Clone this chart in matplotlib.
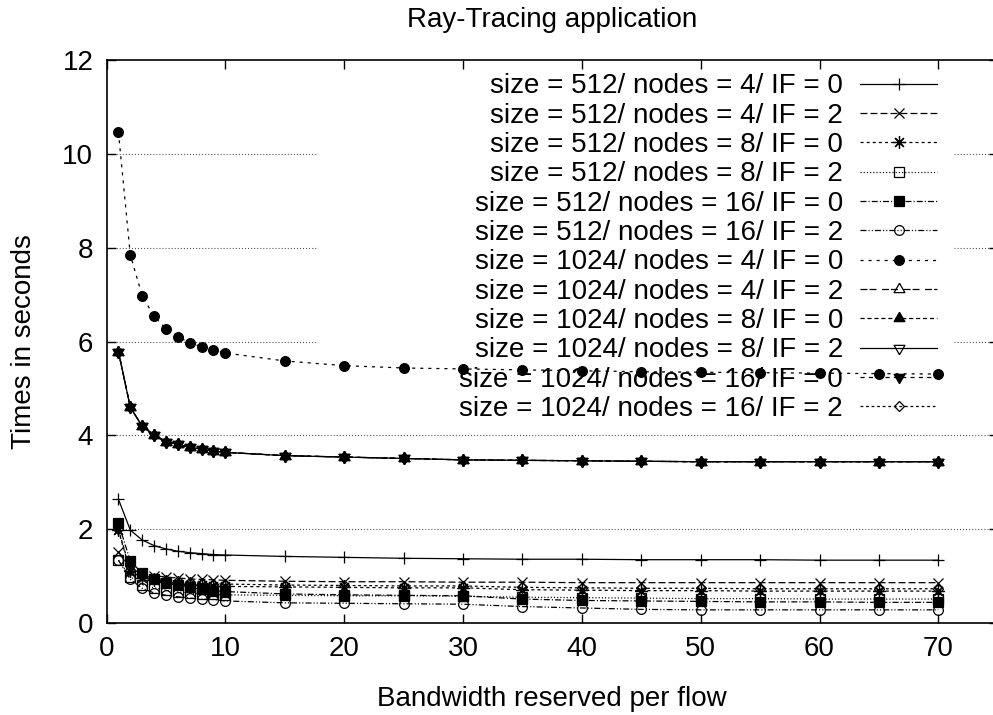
import matplotlib
matplotlib.use("Agg")
import matplotlib.pyplot as plt

plt.rcParams['font.family'] = ['Liberation Sans', 'DejaVu Sans']
plt.rcParams['lines.scale_dashes'] = False

# bandwidth values on the x axis
bandwidth = [1, 2, 3, 4, 5, 6, 7, 8, 9, 10, 15, 20, 25, 30, 35, 40, 45, 50, 55, 60, 65, 70]

# times in seconds
t512_n4_if0 = [2.64, 1.98, 1.77, 1.65, 1.58, 1.53, 1.50, 1.48, 1.46, 1.45, 1.42, 1.40, 1.38, 1.37, 1.36, 1.36, 1.35, 1.35, 1.35, 1.34, 1.34, 1.34]
t512_n4_if2 = [1.52, 1.17, 1.06, 1.01, 0.98, 0.96, 0.94, 0.93, 0.92, 0.91, 0.89, 0.88, 0.88, 0.87, 0.87, 0.86, 0.86, 0.86, 0.86, 0.86, 0.86, 0.86]
t512_n8_if0 = [1.98, 1.10, 0.97, 0.91, 0.87, 0.84, 0.82, 0.80, 0.79, 0.78, 0.77, 0.76, 0.75, 0.75, 0.71, 0.70, 0.69, 0.69, 0.68, 0.68, 0.68, 0.68]
t512_n8_if2 = [1.34, 0.99, 0.82, 0.75, 0.70, 0.66, 0.64, 0.62, 0.61, 0.60, 0.59, 0.58, 0.58, 0.57, 0.55, 0.54, 0.53, 0.52, 0.52, 0.51, 0.51, 0.51]
t512_n16_if0 = [2.13, 1.32, 1.06, 0.93, 0.85, 0.80, 0.76, 0.72, 0.69, 0.67, 0.62, 0.60, 0.59, 0.58, 0.51, 0.48, 0.47, 0.46, 0.45, 0.45, 0.44, 0.44]
t512_n16_if2 = [1.34, 0.93, 0.74, 0.64, 0.59, 0.56, 0.53, 0.51, 0.50, 0.47, 0.43, 0.42, 0.41, 0.40, 0.35, 0.32, 0.29, 0.28, 0.28, 0.28, 0.28, 0.28]
t1024_n4_if0 = [10.47, 7.85, 6.98, 6.54, 6.28, 6.10, 5.98, 5.89, 5.82, 5.76, 5.59, 5.49, 5.44, 5.42, 5.40, 5.38, 5.36, 5.35, 5.34, 5.33, 5.32, 5.31]
# the four curves below lie on top of each other in the picture
t1024_n4_if2 = [5.79, 4.60, 4.20, 4.01, 3.87, 3.81, 3.75, 3.71, 3.67, 3.64, 3.57, 3.54, 3.51, 3.48, 3.47, 3.46, 3.45, 3.44, 3.44, 3.44, 3.44, 3.44]
t1024_n8_if0 = [5.79, 4.60, 4.20, 4.01, 3.87, 3.81, 3.75, 3.71, 3.67, 3.64, 3.57, 3.54, 3.51, 3.48, 3.47, 3.46, 3.45, 3.44, 3.44, 3.44, 3.44, 3.44]
t1024_n8_if2 = [5.79, 4.60, 4.20, 4.01, 3.87, 3.81, 3.75, 3.71, 3.67, 3.64, 3.57, 3.54, 3.51, 3.48, 3.47, 3.46, 3.45, 3.44, 3.44, 3.44, 3.44, 3.44]
t1024_n16_if0 = [5.79, 4.60, 4.20, 4.01, 3.87, 3.81, 3.75, 3.71, 3.67, 3.64, 3.57, 3.54, 3.51, 3.48, 3.47, 3.46, 3.45, 3.44, 3.44, 3.44, 3.44, 3.44]
t1024_n16_if2 = [2.00, 1.13, 1.01, 0.96, 0.92, 0.89, 0.87, 0.85, 0.84, 0.83, 0.81, 0.80, 0.79, 0.79, 0.76, 0.75, 0.74, 0.74, 0.73, 0.73, 0.73, 0.73]

labels = [
    "size = 512/ nodes = 4/ IF = 0",
    "size = 512/ nodes = 4/ IF = 2",
    "size = 512/ nodes = 8/ IF = 0",
    "size = 512/ nodes = 8/ IF = 2",
    "size = 512/ nodes = 16/ IF = 0",
    "size = 512/ nodes = 16/ IF = 2",
    "size = 1024/ nodes = 4/ IF = 0",
    "size = 1024/ nodes = 4/ IF = 2",
    "size = 1024/ nodes = 8/ IF = 0",
    "size = 1024/ nodes = 8/ IF = 2",
    "size = 1024/ nodes = 16/ IF = 0",
    "size = 1024/ nodes = 16/ IF = 2",
]
series = [t512_n4_if0, t512_n4_if2, t512_n8_if0, t512_n8_if2, t512_n16_if0, t512_n16_if2,
          t1024_n4_if0, t1024_n4_if2, t1024_n8_if0, t1024_n8_if2, t1024_n16_if0, t1024_n16_if2]

# triangles centred on their centroid, like gnuplot's, so up+down overlap as a star
tri_up = [(0, 1), (-0.866, -0.5), (0.866, -0.5), (0, 1)]
tri_down = [(0, -1), (-0.866, 0.5), (0.866, 0.5), (0, -1)]

# gnuplot-like point types and dash types
markers = ['+', 'x', (8, 2, 0), 's', 's', 'o', 'o', tri_up, tri_up, tri_down, tri_down, 'D']
filled = [True, True, True, False, True, False, True, False, True, False, True, False]
msizes = [9, 7, 9, 7, 7, 7, 7, 9, 9, 9, 9, 5]
dashes = [
    '-',
    (0, (5, 2.2)),
    (0, (2.2, 2.2)),
    (0, (0.8, 1.5)),
    (0, (4.3, 1.5, 0.8, 1.5)),
    (0, (4.3, 1.5, 0.8, 1.5, 0.8, 1.5)),
    (0, (2.2, 3.6)),
    (0, (5, 1.5, 5, 4)),
    (0, (3, 2)),
    '-',
    (0, (3, 3)),
    (0, (2, 2)),
]

fig = plt.figure(figsize=(9.93, 7.15), dpi=100)
ax = fig.add_axes([0.1073, 0.1287, 0.8975, 0.7867])

# dotted grid, left open where the key sits
for yv in [2, 4]:
    ax.axhline(yv, color='#444444', lw=0.8, ls=(0, (0.7, 1.5)), zorder=0.5)
for yv in [6, 8, 10]:
    ax.axhline(yv, xmin=0, xmax=17.8 / 75, color='#444444', lw=0.8, ls=(0, (0.7, 1.5)), zorder=0.5)
    ax.axhline(yv, xmin=71.3 / 75, xmax=1, color='#444444', lw=0.8, ls=(0, (0.7, 1.5)), zorder=0.5)

for i in range(len(series)):
    ax.plot(bandwidth, series[i], color='black', lw=0.9, ls=dashes[i],
            marker=markers[i], ms=msizes[i], mew=0.9,
            mfc='black' if filled[i] else 'none', mec='black',
            label=labels[i], zorder=2 + i * 0.01)

ax.set_xlim(0, 75)
ax.set_ylim(0, 12)
ax.set_xticks([0, 10, 20, 30, 40, 50, 60, 70])
ax.set_yticks([0, 2, 4, 6, 8, 10, 12])
ax.tick_params(direction='in', length=6.5, width=1, labelsize=20, pad=9.5,
               top=True, right=True)
for sp in ax.spines.values():
    sp.set_linewidth(1.2)

ax.set_title("Ray-Tracing application", fontsize=20, pad=24)
ax.set_xlabel("Bandwidth reserved per flow", fontsize=20, labelpad=17)
ax.set_ylabel("Times in seconds", fontsize=20, labelpad=18)

leg = ax.legend(loc='upper right', bbox_to_anchor=(0.9318, 0.977), frameon=False,
                fontsize=20, markerfirst=False, numpoints=1, handlelength=2.77,
                handletextpad=0.61, labelspacing=0.12, borderpad=0, borderaxespad=0)
leg.set_zorder(1.5)

fig.savefig("out.png", dpi=100)
